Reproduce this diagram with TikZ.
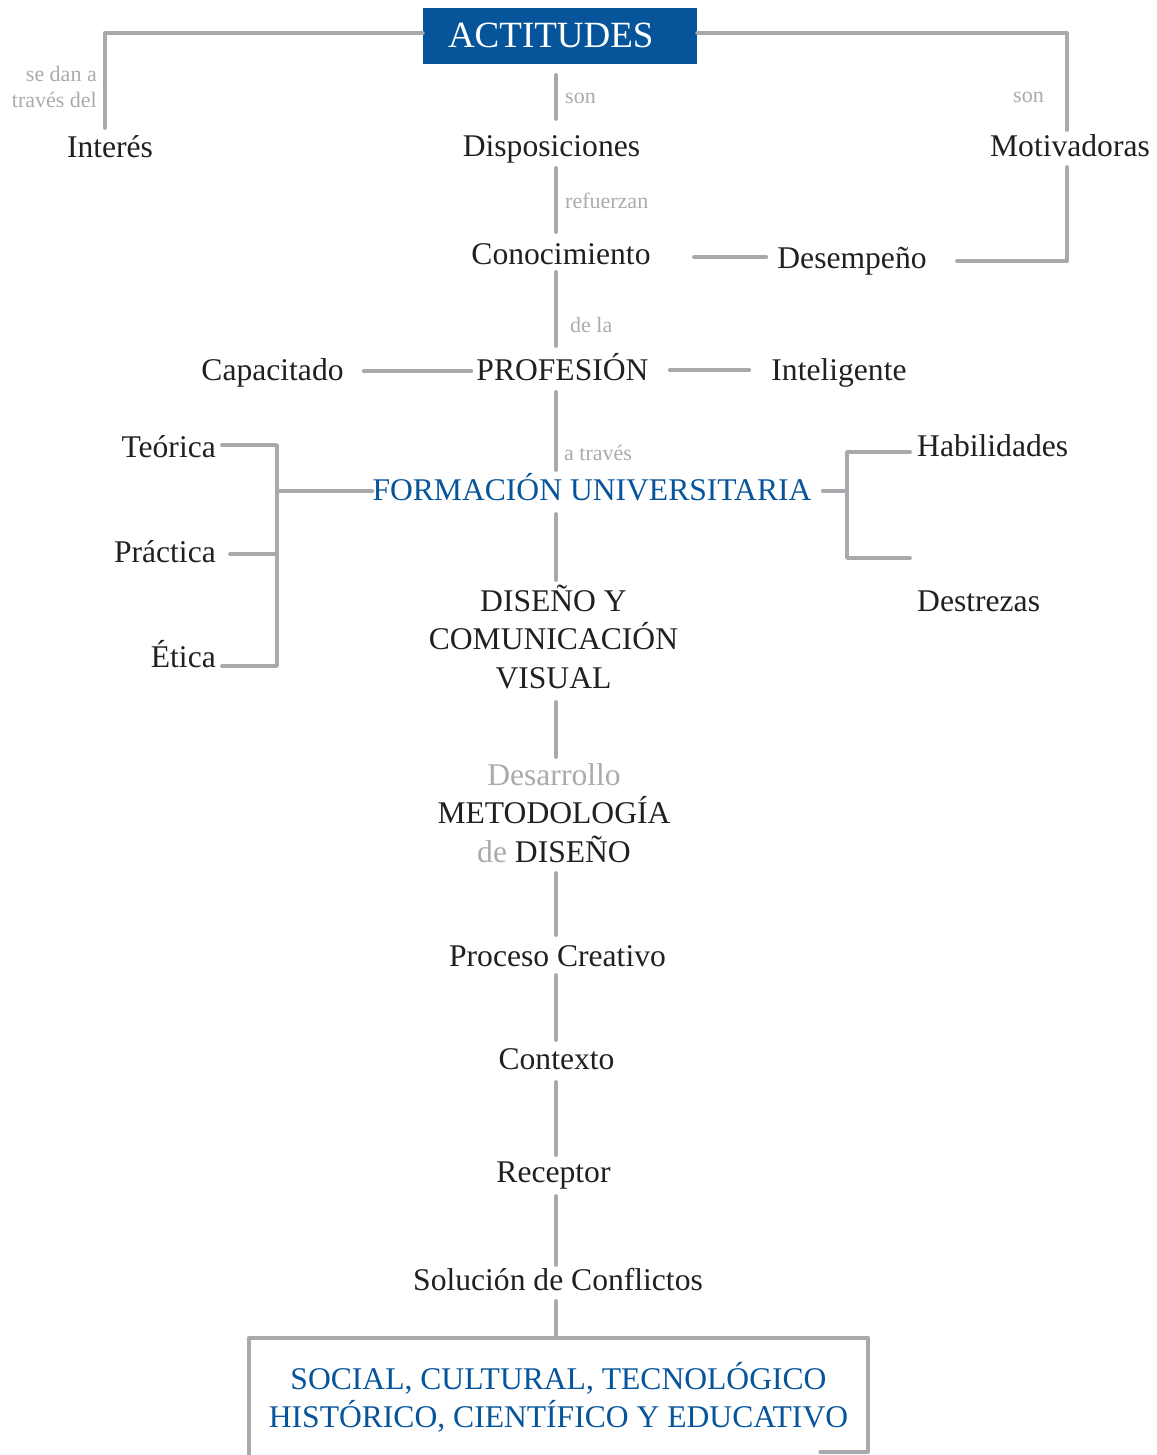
\documentclass[tikz,border=0pt]{standalone}
\usepackage{fontspec}
\setmainfont{Liberation Serif}
\usetikzlibrary{calc}
\definecolor{brandblue}{HTML}{06549A}
\definecolor{linkgray}{HTML}{A7A9AC}
\definecolor{labelgray}{HTML}{A9ABAE}
\definecolor{ink}{HTML}{231F20}
\tikzset{
  concept/.style={font=\fontsize{31.6}{38.5}\selectfont, text=ink, inner sep=0pt, anchor=base},
  bluetext/.style={concept, text=brandblue},
  linkword/.style={font=\fontsize{22}{26}\selectfont, text=labelgray, inner sep=0pt, anchor=base west},
  link/.style={draw=linkgray, line width=3.8pt, line cap=round, line join=round},
}
\begin{document}
\begin{tikzpicture}[x=1pt, y=-1pt]
\useasboundingbox (0,0) rectangle (1156,1455);
\coordinate (spine) at (556,0);
\coordinate (lb) at (277,491);
\coordinate (rb) at (847,491);

% title box
\node[fill=brandblue, text=white, font=\fontsize{37}{44}\selectfont,
      inner xsep=25pt, inner ysep=0pt, text width=224pt, align=flush left,
      minimum height=56pt, text height=24.5pt, text depth=0pt] (act) at (560,35.7) {ACTITUDES};

% concepts
\node[concept] (interes) at (110,158) {Interés};
\node[concept] (disp) at (551.5,157) {Disposiciones};
\node[concept] (motiv) at (1070,157) {Motivadoras};
\node[concept] (conoc) at (561,264) {Conocimiento};
\node[concept] (desemp) at (852,269) {Desempeño};
\node[concept] (capac) at (272.5,380) {Capacitado};
\node[concept] (prof) at (562.5,380) {PROFESIÓN};
\node[concept] (intel) at (839,380) {Inteligente};
\node[concept, anchor=base east] (teo) at (216,457) {Teórica};
\node[concept, anchor=base east] (prac) at (216,562) {Práctica};
\node[concept, anchor=base east] (etica) at (216,667) {Ética};
\node[bluetext] (form) at (592,500) {FORMACIÓN UNIVERSITARIA};
\node[concept, anchor=base west] (habil) at (917,456) {Habilidades};
\node[concept, anchor=base west] (destr) at (917,611) {Destrezas};
\node[concept, text width=260pt, align=flush center] (dcv) at (553.5,611) {DISEÑO Y\\COMUNICACIÓN\\VISUAL};
\node[concept, text width=260pt, align=flush center] (met) at (554,785)
  {\textcolor{labelgray}{Desarrollo}\\METODOLOGÍA\\\textcolor{labelgray}{de} DISEÑO};
\node[concept] (proc) at (557.5,966) {Proceso Creativo};
\node[concept] (cont) at (556.5,1069) {Contexto};
\node[concept] (rec) at (553.5,1182) {Receptor};
\node[concept] (sol) at (558,1290) {Solución de Conflictos};
\node[bluetext, anchor=center, text width=619pt, align=flush center, minimum height=114pt,
      text height=21pt, text depth=33pt] (ctx) at (558.5,1395)
  {SOCIAL, CULTURAL, TECNOLÓGICO\\HISTÓRICO, CIENTÍFICO Y EDUCATIVO};

% linking words
\node[linkword] (w-son) at (565,104) {son};
\node[linkword] (w-ref) at (565,209) {refuerzan};
\node[linkword] (w-dela) at (570,332) {de la};
\node[linkword] (w-atraves) at (564,460) {a través};
\node[linkword] (w-son2) at (1013,103) {son};
\node[linkword, anchor=base east, text width=100pt, align=flush right] (w-sedan) at (97,82) {se dan a\\través del};

% top branches
\draw[link] ($(act.west)+(0,-3)$) -| ($(interes.base)+(-5,-30)$);
\draw[link] ($(act.east)+(0,-3)$) -| ($(motiv.base)+(-3,-27)$);
\draw[link] ($(motiv.base)+(-3,10)$) |- ($(desemp.base)+(105,-8)$);
\draw[link] ($(conoc.base)+(133,-7)$) -- ($(desemp.west |- conoc.base)+(-11,-7)$);
\draw[link] ($(capac.east |- capac.base)+(20,-9)$) -- ($(prof.west |- prof.base)+(-5,-9)$);
\draw[link] ($(prof.east |- prof.base)+(21,-10)$) -- ($(intel.west |- intel.base)+(-22,-10)$);

% left bracket
\draw[link] ($(teo.base east)+(6,-12)$) -| (lb) |- ($(etica.base east)+(6,-1)$);
\draw[link] ($(prac.base east)+(14,-8)$) -| (lb);
\draw[link] (lb) -- (lb -| form.west);

% right bracket
\draw[link] ($(habil.base west)+(-7,-4)$) -| (rb) |- ($(destr.base west)+(-7,-53)$);
\draw[link] (rb) -- ($(rb -| form.east)+(11,0)$);

% central spine
\draw[link] ($(act.south -| spine)+(0,11)$) -- ($(disp.base -| spine)+(0,-38)$);
\draw[link] ($(disp.base -| spine)+(0,11)$) -- ($(conoc.base -| spine)+(0,-32)$);
\draw[link] ($(conoc.base -| spine)+(0,8)$) -- ($(prof.base -| spine)+(0,-34)$);
\draw[link] ($(prof.base -| spine)+(0,12)$) -- ($(form.base -| spine)+(0,-30)$);
\draw[link] ($(form.base -| spine)+(0,14)$) -- ($(dcv.base -| spine)+(0,-31)$);
\draw[link] ($(dcv.base -| spine)+(0,91)$) -- ($(met.base -| spine)+(0,-28)$);
\draw[link] ($(met.base -| spine)+(0,88)$) -- ($(proc.base -| spine)+(0,-31)$);
\draw[link] ($(proc.base -| spine)+(0,9)$) -- ($(cont.base -| spine)+(0,-29)$);
\draw[link] ($(cont.base -| spine)+(0,13)$) -- ($(rec.base -| spine)+(0,-27)$);
\draw[link] ($(rec.base -| spine)+(0,14)$) -- ($(sol.base -| spine)+(0,-25)$);
\draw[link] ($(sol.base -| spine)+(0,11)$) -- (ctx.north -| spine);

% frame of the closing box
\draw[link] ($(ctx.south east)+(-48,0)$) -- (ctx.south east) -- (ctx.north east)
  -- (ctx.north west) -- ($(ctx.south west)+(0,6)$);
\end{tikzpicture}
\end{document}
